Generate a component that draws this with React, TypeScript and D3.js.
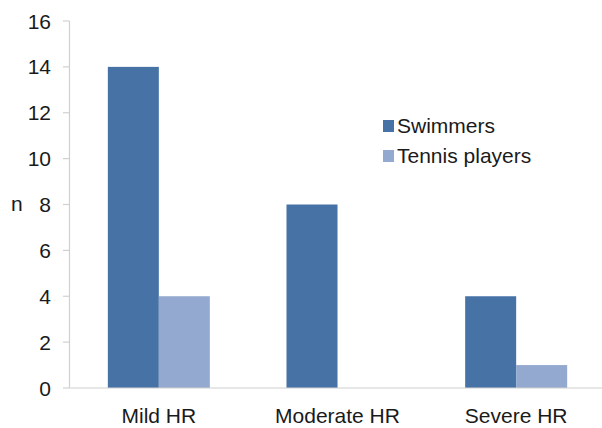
import React from "react";
import * as d3 from "d3";

const categories = ["Mild HR", "Moderate HR", "Severe HR"];
const seriesNames = ["Swimmers", "Tennis players"];
const swimmers = [14, 8, 4];
const tennis = [4, 0, 1];
const yTicks = [0, 2, 4, 6, 8, 10, 12, 14, 16];
const colors = ["#4672a6", "#93a9cf"];

export default function App() {
  const W = 602, H = 428;
  const left = 69.5, right = 605.5, top = 21, bottom = 388;
  const x = d3.scaleBand<string>().domain(categories).range([left, right]).paddingInner(0).paddingOuter(0);
  const y = d3.scaleLinear().domain([0, 16]).range([bottom, top]);
  const barW = 51;
  const series = [swimmers, tennis];
  const font = "'Liberation Sans', Arial, Helvetica, sans-serif";
  return (
    <svg width={W} height={H} style={{ position: "absolute", left: 0, top: 0, background: "#fff" }} fontFamily={font}>
      {/* bars */}
      {categories.map((c, i) => {
        const cx = (x(c) as number) + x.bandwidth() / 2;
        return series.map((s, k) =>
          s[i] > 0 ? (
            <rect key={c + k} x={cx - barW + k * barW} y={y(s[i])} width={barW} height={y(0) - y(s[i])} fill={colors[k]} />
          ) : null
        );
      })}
      {/* y axis */}
      <line x1={left} x2={left} y1={top} y2={bottom} stroke="#d0d0d0" strokeWidth={1.2} />
      {yTicks.map((t) => (
        <g key={t}>
          <line x1={left - 6.5} x2={left} y1={y(t)} y2={y(t)} stroke="#d0d0d0" strokeWidth={1.2} />
          <text x={51} y={y(t)} dy="0.36em" textAnchor="end" fontSize={21} fill="#1a1a1a">{t}</text>
        </g>
      ))}
      {/* x axis */}
      <line x1={left} x2={W} y1={bottom} y2={bottom} stroke="#d0d0d0" strokeWidth={1.2} />
      {categories.map((c) => (
        <text key={c} x={(x(c) as number) + x.bandwidth() / 2} y={423} textAnchor="middle" fontSize={21} fill="#1a1a1a">{c}</text>
      ))}
      {/* y label */}
      <text x={11} y={210.5} fontSize={21} fill="#1a1a1a">n</text>
      {/* legend */}
      {seriesNames.map((n, k) => (
        <g key={n}>
          <rect x={383} y={120 + k * 30} width={11} height={12} fill={colors[k]} />
          <text x={397} y={132.5 + k * 30} fontSize={21} fill="#1a1a1a">{n}</text>
        </g>
      ))}
    </svg>
  );
}
